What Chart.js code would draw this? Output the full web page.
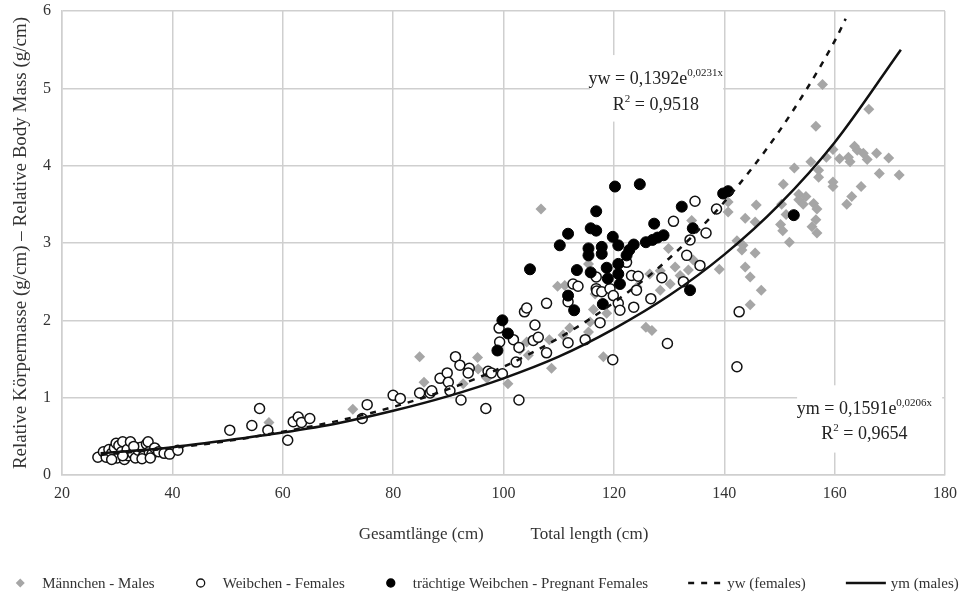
<!DOCTYPE html>
<html>
<head>
<meta charset="utf-8">
<script src="https://cdn.jsdelivr.net/npm/chart.js@4.4.0/dist/chart.umd.min.js"></script>
<style>
  html, body { margin: 0; padding: 0; background: #fff; }
  #wrap { width: 973px; height: 603px; }
</style>
</head>
<body>
<div id="wrap"><canvas id="lengthMassChart"></canvas></div>
<script>
// Relative body mass vs. total length (males, females, pregnant females + exp. trendlines)

const FONT = "'Liberation Serif', 'Times New Roman', serif";

const xTicks = [20, 40, 60, 80, 100, 120, 140, 160, 180];
const yTicks = [0, 1, 2, 3, 4, 5, 6];

// Männchen - Males (grey diamonds)
const malesX = [28, 30, 31.5, 33, 35, 36.5, 57.5, 72.7, 84.8, 85.6, 92.7, 95.3, 95.4, 97, 100.8, 103, 104.2, 104.5,
  106.8, 108.3, 108.7, 109.8, 110.8, 111.1, 112, 115.4, 115.4, 115.7, 116.3, 116.6, 118.1, 118.7, 120, 124.2, 125.8,
  126.9, 126.5, 128.4, 128.4, 129.9, 130.2, 131.1, 132, 133.5, 134.4, 134.1, 139.1, 140.7, 140.7, 142.3, 143.2, 143.4,
  143.8, 143.8, 144.7, 144.7, 145.6, 145.6, 145.8, 146.7, 150.2, 150.4, 150.6, 150.7, 151.2, 151.8, 152.7, 153.5,
  153.5, 154.3, 154.8, 155.7, 155.9, 156.2, 156.6, 156.6, 156.8, 156.8, 157.1, 157.1, 157.8, 158.5, 159.7, 159.7,
  159.7, 160.9, 162.2, 162.5, 162.8, 163.1, 163.6, 164.1, 164.8, 165.2, 165.9, 166.2, 167.6, 168.1, 169.8, 171.7];
const malesY = [0.3, 0.33, 0.28, 0.3, 0.27, 0.33, 0.68, 0.85, 1.53, 1.2, 1.18, 1.52, 1.37, 1.25, 1.18, 1.62, 1.72, 1.55,
  3.44, 1.75, 1.38, 2.44, 1.81, 2.45, 1.9, 2.73, 1.85, 1.98, 2.14, 2.34, 1.53, 2.09, 2.3, 2.43, 1.91,
  1.87, 2.6, 2.64, 2.39, 2.93, 2.47, 2.69, 2.58, 2.65, 2.78, 3.29, 2.66, 3.53, 3.4, 3.03, 2.91, 2.97,
  3.32, 2.69, 2.56, 2.2, 3.27, 2.87, 3.49, 2.39, 3.24, 3.5, 3.16, 3.76, 3.37, 3.01, 3.97, 3.63,
  3.56, 3.5, 3.6, 4.05, 3.21, 3.51, 4.51, 3.3, 3.44, 3.13, 3.94, 3.85, 5.05, 4.11, 4.21, 3.79,
  3.73, 4.09, 3.5, 4.11, 4.05, 3.6, 4.25, 4.2, 3.73, 4.16, 4.08, 4.73, 4.16, 3.9, 4.1, 3.88];

// Weibchen - Females (open circles)
const femalesX = [26.5, 27.5, 28, 28.5, 29, 29.5, 29.8, 30, 30.3, 30.8, 31, 31.3, 31.8, 32, 32.4, 32.8, 33.3, 33.8,
  34.3, 34.8, 35.3, 35.6, 35.8, 36.3, 36.8, 37.5, 38.5, 39.5, 41, 29, 31, 33, 34.5, 36,
  50.4, 54.4, 55.8, 57.3, 60.9, 61.9, 62.8, 63.4, 64.9, 74.4, 75.3, 80, 81.3, 84.8, 86.7, 87, 88.5, 89.8, 90,
  90.3, 91.3, 92.1, 92.3, 93.8, 93.6, 96.8, 97.2, 97.8, 99.2, 99.3, 99.8, 101.8, 102.3, 102.8, 102.8, 103.8,
  104.2, 105.4, 105.7, 106.3, 107.8, 107.8, 111.7, 111.7, 112.6, 113.5, 114.8, 116.8, 116.8, 116.9, 117.5,
  117.8, 119.3, 119.8, 119.9, 120.8, 121.1, 122.3, 123.2, 123.6, 124.1, 124.4, 126.7, 128.7, 129.7, 130.8,
  132.6, 133.2, 133.8, 134.7, 135.6, 136.7, 138.6, 142.3, 142.7];
const femalesY = [0.23, 0.3, 0.23, 0.33, 0.28, 0.35, 0.41, 0.22, 0.38, 0.3, 0.43, 0.2, 0.33, 0.25, 0.43, 0.28, 0.22, 0.32,
  0.36, 0.25, 0.4, 0.43, 0.3, 0.27, 0.35, 0.3, 0.28, 0.27, 0.32, 0.2, 0.25, 0.37, 0.21, 0.22,
  0.58, 0.64, 0.86, 0.58, 0.45, 0.69, 0.75, 0.68, 0.73, 0.73, 0.91, 1.03, 0.99, 1.06, 1.06, 1.09, 1.25, 1.32, 1.2,
  1.09, 1.53, 1.42, 0.97, 1.38, 1.32, 0.86, 1.34, 1.32, 1.9, 1.72, 1.31, 1.75, 1.46, 1.65, 0.97, 2.11,
  2.16, 1.74, 1.94, 1.78, 2.22, 1.58, 2.24, 1.71, 2.47, 2.44, 1.75, 2.56, 2.41, 2.38, 1.97,
  2.37, 2.41, 1.49, 2.32, 2.22, 2.13, 2.75, 2.58, 2.17, 2.39, 2.57, 2.28, 2.55, 1.7, 3.28,
  2.5, 2.84, 3.04, 3.54, 2.71, 3.13, 3.44, 1.4, 2.11];

// trächtige Weibchen - Pregnant Females (filled circles)
const pregnantX = [98.9, 99.8, 100.8, 104.8, 110.2, 111.7, 111.7, 112.8, 113.3, 115.4, 115.4, 115.8, 115.8, 116.8,
  116.8, 117.8, 117.8, 118, 118.7, 118.9, 119.8, 120.2, 120.8, 120.8, 120.8, 121.1, 122.3, 122.8, 123.6, 124.7,
  125.8, 127, 127.3, 127.9, 129, 132.3, 133.8, 134.3, 139.8, 140.7, 152.6];
const pregnantY = [1.61, 2.0, 1.83, 2.66, 2.97, 3.12, 2.32, 2.13, 2.65, 2.93, 2.84, 3.19, 2.62, 3.41,
  3.16, 2.95, 2.86, 2.21, 2.68, 2.54, 3.08, 3.73, 2.97, 2.73, 2.6, 2.47, 2.84, 2.91, 2.98, 3.76,
  3.01, 3.04, 3.25, 3.07, 3.1, 3.47, 2.39, 3.19, 3.64, 3.67, 3.36];

// trendlines
const ywX = [27, 40, 50, 60, 70, 80, 90, 100, 110, 120, 130, 140, 150, 160, 162];
const ywY = [0.26, 0.35, 0.44, 0.56, 0.7, 0.88, 1.11, 1.4, 1.77, 2.23, 2.8, 3.53, 4.45, 5.61, 5.9];
const ymX = [27, 40, 50, 60, 70, 80, 90, 100, 110, 120, 130, 140, 150, 160, 172];
const ymY = [0.28, 0.36, 0.45, 0.55, 0.67, 0.83, 1.02, 1.25, 1.53, 1.89, 2.32, 2.85, 3.5, 4.3, 5.5];

const toPoints = (xs, ys) => xs.map((x, i) => ({ x: x, y: ys[i] }));

// Equation labels: white box + text lines, parts are [text, superscript?]
const eqLabels = [
  {
    box: [115.7, 139.8, 4.57, 5.43],
    cx: 127.6,
    lines: [
      { y: 5.13, parts: [['yw = 0,1392e', false], ['0,0231x', true]] },
      { y: 4.8, parts: [['R', false], ['2', true], [' = 0,9518', false]] }
    ]
  },
  {
    box: [153.2, 179.5, 0.29, 1.16],
    cx: 165.4,
    lines: [
      { y: 0.86, parts: [['ym = 0,1591e', false], ['0,0206x', true]] },
      { y: 0.54, parts: [['R', false], ['2', true], [' = 0,9654', false]] }
    ]
  }
];

const equationPlugin = {
  id: 'equations',
  beforeDatasetsDraw(chart) {
    const { ctx, scales: { x, y } } = chart;
    ctx.save();
    eqLabels.forEach(lbl => {
      const x0 = x.getPixelForValue(lbl.box[0]);
      const x1 = x.getPixelForValue(lbl.box[1]);
      const y0 = y.getPixelForValue(lbl.box[3]);
      const y1 = y.getPixelForValue(lbl.box[2]);
      ctx.fillStyle = '#fff';
      ctx.fillRect(x0, y0, x1 - x0, y1 - y0);

      const cx = x.getPixelForValue(lbl.cx);
      lbl.lines.forEach(line => {
        const cy = y.getPixelForValue(line.y);
        const widths = line.parts.map(p => {
          ctx.font = (p[1] ? '11px ' : '18px ') + FONT;
          return ctx.measureText(p[0]).width;
        });
        let px = cx - widths.reduce((a, b) => a + b, 0) / 2;
        ctx.fillStyle = '#222';
        ctx.textBaseline = 'alphabetic';
        line.parts.forEach((p, i) => {
          ctx.font = (p[1] ? '11px ' : '18px ') + FONT;
          ctx.fillText(p[0], px, p[1] ? cy - 2 : cy + 6);
          px += widths[i];
        });
      });
    });
    ctx.restore();
  }
};

// Legend drawn along the bottom, one row
const legendPlugin = {
  id: 'bottomLegend',
  afterDraw(chart) {
    const { ctx } = chart;
    const order = [2, 3, 4, 0, 1]; // males, females, pregnant, yw, ym
    const rowY = 583;
    ctx.save();
    ctx.font = '15px ' + FONT;
    ctx.textBaseline = 'middle';
    const items = order.map(i => {
      const ds = chart.data.datasets[i];
      const isLine = ds.type === 'line';
      return {
        ds: ds,
        isLine: isLine,
        markW: isLine ? (ds.borderDash ? 34 : 40) : 12,
        gap: isLine ? 5 : 16,
        textW: ctx.measureText(ds.label).width
      };
    });
    const spacing = 40;
    const total = items.reduce((s, it) => s + it.markW + it.gap + it.textW, 0) + spacing * (items.length - 1);
    let px = (chart.width - total) / 2;
    items.forEach(it => {
      const ds = it.ds;
      if (it.isLine) {
        ctx.strokeStyle = ds.borderColor;
        ctx.lineWidth = ds.borderWidth;
        ctx.setLineDash(ds.borderDash || []);
        ctx.beginPath();
        ctx.moveTo(px, rowY);
        ctx.lineTo(px + it.markW, rowY);
        ctx.stroke();
        ctx.setLineDash([]);
      } else {
        const cx = px + it.markW / 2;
        ctx.beginPath();
        if (ds.pointStyle === 'rectRot') {
          const r = 4.5;
          ctx.moveTo(cx - r, rowY); ctx.lineTo(cx, rowY - r);
          ctx.lineTo(cx + r, rowY); ctx.lineTo(cx, rowY + r);
          ctx.closePath();
        } else {
          ctx.arc(cx, rowY, 4, 0, Math.PI * 2);
        }
        ctx.fillStyle = ds.pointBackgroundColor;
        ctx.fill();
        if (ds.pointBorderWidth) {
          ctx.lineWidth = 1.3;
          ctx.strokeStyle = ds.pointBorderColor;
          ctx.stroke();
        }
      }
      px += it.markW + it.gap;
      ctx.fillStyle = '#333';
      ctx.fillText(ds.label, px, rowY + 1);
      px += it.textW + spacing;
    });
    ctx.restore();
  }
};

const gridColor = '#cfcfcf';

new Chart(document.getElementById('lengthMassChart'), {
  type: 'scatter',
  data: {
    datasets: [
      {
        type: 'line',
        label: 'yw (females)',
        data: toPoints(ywX, ywY),
        borderColor: '#111',
        borderWidth: 2.5,
        borderDash: [6, 7],
        pointRadius: 0,
        cubicInterpolationMode: 'monotone',
        fill: false,
        order: 1
      },
      {
        type: 'line',
        label: 'ym (males)',
        data: toPoints(ymX, ymY),
        borderColor: '#111',
        borderWidth: 2.5,
        pointRadius: 0,
        cubicInterpolationMode: 'monotone',
        fill: false,
        order: 2
      },
      {
        label: 'Männchen - Males',
        data: toPoints(malesX, malesY),
        pointStyle: 'rectRot',
        pointRadius: 5.5,
        pointBackgroundColor: '#a6a6a6',
        pointBorderColor: '#a6a6a6',
        pointBorderWidth: 0,
        order: 5
      },
      {
        label: 'Weibchen - Females',
        data: toPoints(femalesX, femalesY),
        pointStyle: 'circle',
        pointRadius: 5,
        pointBackgroundColor: '#fff',
        pointBorderColor: '#111',
        pointBorderWidth: 1.5,
        order: 4
      },
      {
        label: 'trächtige Weibchen - Pregnant Females',
        data: toPoints(pregnantX, pregnantY),
        pointStyle: 'circle',
        pointRadius: 5.5,
        pointBackgroundColor: '#000',
        pointBorderColor: '#000',
        pointBorderWidth: 1,
        order: 3
      }
    ]
  },
  options: {
    responsive: true,
    maintainAspectRatio: false,
    animation: false,
    layout: {
      padding: { top: 11, right: 28, bottom: 40, left: 0 }
    },
    plugins: {
      legend: { display: false },
      tooltip: { enabled: false }
    },
    scales: {
      x: {
        type: 'linear',
        min: xTicks[0],
        max: xTicks[xTicks.length - 1],
        afterBuildTicks: scale => { scale.ticks = xTicks.map(v => ({ value: v })); },
        afterFit: scale => { scale.height = 88; },
        grid: { color: gridColor, lineWidth: 1.5, drawTicks: false },
        border: { color: gridColor, width: 1.5 },
        ticks: {
          padding: 9,
          color: '#333',
          font: { family: FONT, size: 16 }
        },
        title: {
          display: true,
          text: 'Gesamtlänge (cm)\u00a0\u00a0\u00a0\u00a0\u00a0\u00a0\u00a0\u00a0\u00a0\u00a0\u00a0Total length (cm)',
          color: '#333',
          font: { family: FONT, size: 17 },
          padding: { top: 0, bottom: 18 }
        }
      },
      y: {
        min: yTicks[0],
        max: yTicks[yTicks.length - 1],
        afterBuildTicks: scale => { scale.ticks = yTicks.map(v => ({ value: v })); },
        afterFit: scale => {
          scale.width = 62;
          scale.paddingTop = 0;
          scale.paddingBottom = 0;
        },
        grid: { color: gridColor, lineWidth: 1.5, drawTicks: false },
        border: { color: gridColor, width: 1.5 },
        ticks: {
          padding: 11,
          color: '#333',
          font: { family: FONT, size: 16 }
        },
        title: {
          display: true,
          text: 'Relative Körpermasse (g/cm) – Relative Body Mass (g/cm)',
          color: '#333',
          font: { family: FONT, size: 19 },
          padding: { top: 10, bottom: 0 }
        }
      }
    }
  },
  plugins: [equationPlugin, legendPlugin]
});
</script>
</body>
</html>
